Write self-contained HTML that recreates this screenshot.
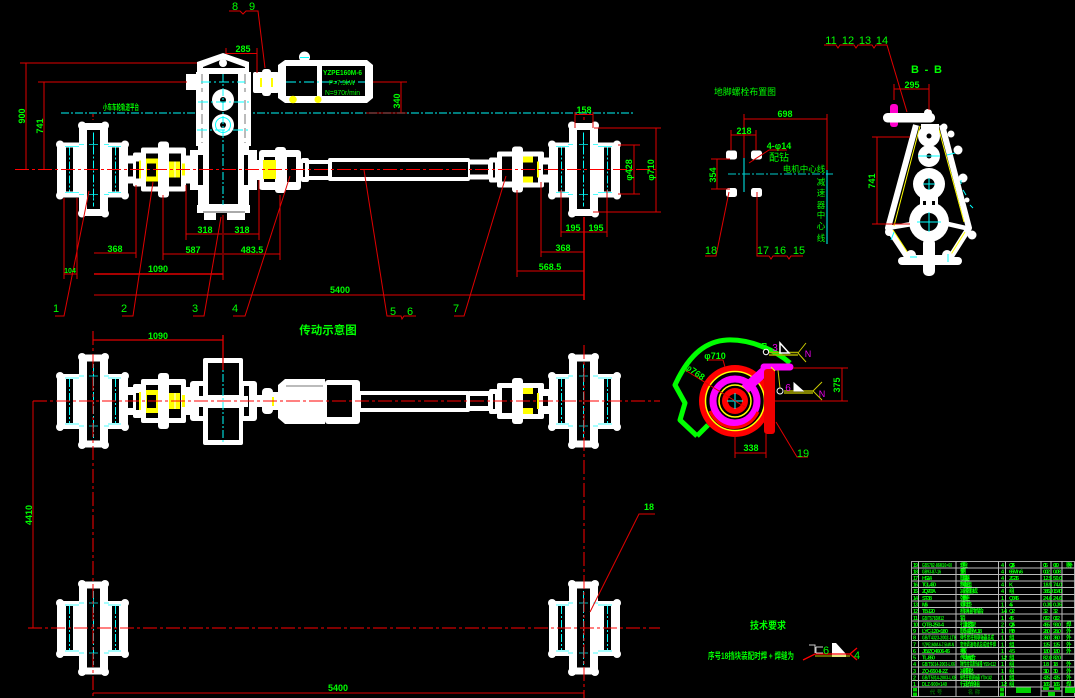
<!DOCTYPE html>
<html><head><meta charset="utf-8"><style>
html,body{margin:0;padding:0;background:#000;width:1075px;height:698px;overflow:hidden}
svg{display:block}
text{font-family:"Liberation Sans","Noto Sans CJK SC",sans-serif;fill:#0f0}
.d{font-size:9px;text-anchor:middle;font-weight:bold}
.n{font-size:11px;text-anchor:middle}
.t{font-size:5.5px;font-weight:bold}
.r{stroke:#e00000;stroke-width:1;fill:none}
.c{stroke:#0ff;stroke-width:1;fill:none;stroke-dasharray:8 2 2 2}
.w{fill:#fff;stroke:none}
.k{fill:#000;stroke:none}
.y{fill:#ff0;stroke:none}
</style></head><body>
<svg width="1075" height="698" viewBox="0 0 1075 698" xmlns="http://www.w3.org/2000/svg">
<defs>
<g id="wheel">
<rect class="w" x="-36" y="-27" width="71" height="55" rx="4"/>
<rect class="w" x="-14" y="-47" width="29" height="94" rx="2"/>
<circle class="w" cx="-33" cy="-25" r="4"/><circle class="w" cx="32" cy="-25" r="4"/><circle class="w" cx="-33" cy="26" r="4"/><circle class="w" cx="32" cy="26" r="4"/>
<circle class="w" cx="-11" cy="-44" r="4"/><circle class="w" cx="12" cy="-44" r="4"/><circle class="w" cx="-11" cy="44" r="4"/><circle class="w" cx="12" cy="44" r="4"/>
<rect class="k" x="-6" y="-39.500" width="13" height="79"/>
<rect class="k" x="-27" y="-22" width="7" height="44"/>
<rect class="k" x="19" y="-22" width="7" height="44"/>
<path d="M-8-47H9" stroke="#000" stroke-width="1"/><path d="M-8 47H9" stroke="#000" stroke-width="1"/>
<path class="c" d="M.5-37V37M-23.500-22V22M22.500-22V22"/>
<path d="M-4-25H5M-4 25H5M.5-29V-21M.5 21V29M-14-25H-9M11-25H16M-14 25H-9M11 25H16M-28-23H-14M15-23H28M-28 23H-14M15 23H28" stroke="#0ff" stroke-width="1" opacity=".7"/>
</g>
<g id="cplL">
<rect class="w" x="128" y="-14" width="14" height="28"/>
<rect class="k" x="128" y="-6" width="5" height="13"/>
<rect class="w" x="133" y="-17" width="9" height="34" rx="2"/>
<rect class="k" x="136" y="-8" width="3" height="17"/>
<rect class="y" x="139" y="-9" width="2" height="18"/>
<rect class="w" x="141" y="-22" width="45" height="44" rx="2"/>
<rect class="w" x="158" y="-28" width="11" height="56" rx="3"/>
<rect class="y" x="146" y="-11" width="12" height="23"/>
<rect class="k" x="147" y="-6" width="9" height="13"/>
<rect class="k" x="146" y="-16" width="12" height="5"/><rect class="k" x="146" y="12" width="12" height="5"/>
<rect class="k" x="169" y="-16" width="12" height="33"/>
<rect class="y" x="169" y="-8" width="11" height="16"/>
<path d="M175-8V8" stroke="#fff" stroke-width="1"/>
<rect class="w" x="186" y="-14" width="6" height="28"/>
<rect class="y" x="182" y="-6" width="3" height="12"/>
</g>
<g id="cplR">
<rect class="w" x="469" y="-10" width="21" height="20"/>
<rect class="k" x="469" y="-5" width="19" height="10"/>
<rect class="w" x="489" y="-12" width="9" height="25" rx="2"/>
<rect class="k" x="493" y="-7" width="2" height="15"/>
<rect class="w" x="497" y="-18" width="47" height="36" rx="2"/>
<rect class="w" x="512" y="-23" width="11" height="46" rx="3"/>
<rect class="k" x="502" y="-13" width="10" height="25"/>
<rect class="k" x="523" y="-13" width="15" height="26"/>
<rect class="y" x="523" y="-13" width="10" height="6"/><rect class="y" x="523" y="7" width="10" height="6"/>
<rect class="y" x="537" y="-8" width="2" height="16"/>
<rect class="w" x="539" y="-12" width="12" height="25"/>
<rect class="k" x="543" y="-5" width="5" height="10"/>
</g>
</defs>
<rect width="1075" height="698" fill="#000"/>

<!-- top view -->
<path d="M61 113H633" stroke="#00a5a5" stroke-width="1.500" stroke-dasharray="8 2 2 2" fill="none"/>
<use href="#wheel" transform="translate(93,169.500)"/>
<use href="#wheel" transform="translate(584,169.500) scale(-1,1)"/>
<use href="#cplL" transform="translate(0,169.500)"/>
<use href="#cplR" transform="translate(0,169.500)"/>

<!-- gearbox -->
<path class="w" d="M197 62L223 53L249 62V72H251V146H249V150H257V190H249V205H250V213H245V220H227V213H216V220H204V213H197V205H198V190H190V150H198V146H196V90H186V74H196V72H197Z"/>
<path class="k" d="M203 67L223 59L245 67V68H203Z"/>
<rect class="k" x="209" y="74" width="29" height="130"/>
<rect class="k" x="198" y="155" width="5" height="30"/>
<rect class="k" x="244" y="155" width="4" height="30"/>
<path d="M202 74V92M202 100V143M245 74V92M245 100V143" stroke="#777" stroke-width="1" stroke-dasharray="10 4"/>
<path d="M203 212H245" stroke="#555" stroke-width="1"/>
<circle class="w" cx="223" cy="63" r="4"/>
<circle class="w" cx="223" cy="100" r="11"/>
<circle class="w" cx="223" cy="125" r="11"/>
<circle cx="223" cy="125" r="7.500" fill="none" stroke="#0ff" stroke-width="1"/>
<circle class="k" cx="223" cy="125" r="3"/><circle class="k" cx="223" cy="100" r="3"/>
<path class="c" d="M223 74V205"/>
<path d="M201 82H245M198 102H249M197 130H249" stroke="#0ff" stroke-width="1" stroke-dasharray="10 3 2 3"/>

<!-- coupling beside gearbox / motor -->
<rect class="w" x="253" y="72" width="26" height="21" rx="2"/>
<rect class="w" x="262" y="69" width="9" height="27" rx="3"/>
<rect class="y" x="260" y="78" width="2" height="9"/><rect class="y" x="271" y="78" width="2" height="9"/>
<path class="w" d="M285 60H367L373 65V98L367 103H285L278 98V65Z"/>
<circle class="w" cx="304.500" cy="57" r="5.500"/>
<rect class="k" x="286" y="66" width="31" height="30"/>
<rect class="k" x="322" y="66" width="43" height="30"/>
<circle class="y" cx="293" cy="99.500" r="3.800"/><circle class="y" cx="318" cy="99.500" r="3.500"/>
<path d="M286 82H365" stroke="#0ff" stroke-width="1" stroke-dasharray="10 3 2 3"/>
<path d="M300 57.500H309" stroke="#0ff"/>
<text x="323" y="75" font-size="7.500" font-weight="bold" textLength="39" lengthAdjust="spacingAndGlyphs">YZPE160M-6</text>
<text x="329" y="85" font-size="7" textLength="26" lengthAdjust="spacingAndGlyphs">P=7.5kW</text>
<text x="325" y="95" font-size="7" textLength="35" lengthAdjust="spacingAndGlyphs">N=970r/min</text>

<!-- right of gearbox -->
<rect class="w" x="257" y="160" width="4" height="20"/>
<rect class="w" x="259" y="150" width="42" height="40" rx="3"/>
<rect class="w" x="275" y="147" width="11" height="46" rx="3"/>
<rect class="k" x="264" y="157" width="11" height="25"/>
<rect class="y" x="263" y="160" width="13" height="19"/>
<rect class="k" x="287" y="157" width="9" height="25"/>
<rect class="w" x="301" y="158" width="8" height="24" rx="2"/>
<rect class="k" x="303" y="163" width="2" height="14"/>
<rect class="w" x="308" y="160" width="21" height="20"/>
<rect class="k" x="309" y="164" width="19" height="12"/>
<rect class="w" x="328" y="158" width="142" height="23" rx="2"/>
<rect class="k" x="332" y="162" width="136" height="15"/>

<!-- lower plan view -->
<use href="#wheel" transform="translate(93,401)"/>
<use href="#wheel" transform="translate(584,401) scale(-1,1)"/>
<use href="#cplL" transform="translate(0,401)"/>
<use href="#cplR" transform="translate(0,401)"/>
<rect class="w" x="190" y="381" width="67" height="40" rx="3"/>
<rect class="k" x="199" y="386" width="5" height="30"/>
<rect class="k" x="244" y="386" width="5" height="30"/>
<rect class="w" x="203" y="358" width="40" height="87" rx="2"/>
<rect class="k" x="208" y="363" width="31" height="32"/>
<rect class="k" x="208" y="408" width="31" height="32"/>
<rect class="w" x="198" y="396" width="50" height="11"/>
<path class="c" d="M223 360V443"/>
<rect class="w" x="257" y="395" width="7" height="12"/>
<rect class="w" x="262" y="388" width="11" height="26" rx="4"/>
<rect class="w" x="272" y="392" width="8" height="18"/>
<rect class="y" x="272" y="397" width="2" height="9"/>
<path class="w" d="M285 379H325V424H285L278 418V385Z"/>
<rect class="w" x="325" y="380" width="35" height="44" rx="3"/>
<rect class="k" x="327" y="385" width="25" height="32"/>
<rect class="w" x="358" y="391" width="112" height="21" rx="2"/>
<rect class="k" x="361" y="395" width="105" height="13"/>
<path d="M286 386H323" stroke="#777"/>

<!-- bottom wheels -->
<use href="#wheel" transform="translate(93,628)"/>
<use href="#wheel" transform="translate(584,628) scale(-1,1)"/>

<!-- centre lines -->
<g stroke="#f00" fill="none" stroke-dasharray="14 3 3 3">
<path d="M15 169.500H657"/>
<path d="M33 401H660"/>
<path d="M28 628H660"/>
<path d="M93 331V700"/>
<path d="M584 345V700"/>
</g>
<path d="M93 114V120M584 112V122" stroke="#f00" stroke-dasharray="3 2"/>

<!-- red dims top -->
<g class="r">
<path d="M229 11H240L243 14L246 11H258L265 68"/>
<path d="M226 53.500H257M257 48V73M226 48V54"/>
<path d="M20 63H197M26 63V169M38 82H187M44 82V169"/>
<path d="M55 316H64L89 191"/>
<path d="M122 316H133L153 182"/>
<path d="M193 316H204L221 217"/>
<path d="M233 316H245L290 176"/>
<path d="M186 185V240M259 180V240M186 234H222M224 234H259"/>
<path d="M94 253H136M136 185V258"/>
<path d="M163 195V260M280 195V260M163 254H222M224 254H280M223 215V280"/>
<path d="M94 274H223" stroke-width="1.500"/>
<path d="M64 198V279M77 198V279M64 274H77"/>
<path d="M94 295H584"/>
<path d="M364 170L387 316H401L402 319L404 316H416"/>
<path d="M454 316H464L506 176"/>
<path d="M517 190V277M517 271H584"/>
<path d="M541 182V257M541 252H584"/>
<path d="M561 190V237M607 190V237M561 232H607"/>
<path d="M575 112V128M593 112V128M575 114.500H593"/>
<path d="M594 128H661M593 212H661M656 128V212"/>
<path d="M618 145H640M618 194H640M634 145V194"/>
<path d="M373 82H407M401 82V113"/>
<path d="M366 113H407" stroke="#b00000"/>
<path d="M584 217V300" stroke-width="1.500"/>
</g>
<g class="d">
<text x="243" y="52">285</text>
<text x="205" y="233">318</text><text x="242" y="233">318</text>
<text x="115" y="252">368</text>
<text x="193" y="253">587</text><text x="252" y="253">483.5</text>
<text x="158" y="272">1090</text>
<text x="70" y="273" font-size="7">104</text>
<text x="340" y="293">5400</text>
<text x="584" y="113">158</text>
<text x="573" y="231">195</text><text x="596" y="231">195</text>
<text x="563" y="251">368</text>
<text x="550" y="270">568.5</text>
<text transform="translate(25,116) rotate(-90)">900</text>
<text transform="translate(43,126) rotate(-90)">741</text>
<text transform="translate(401,97) rotate(-90)" x="-4" y="-1">340</text>
<text transform="translate(632,170) rotate(-90)">φ428</text>
<text transform="translate(654,170) rotate(-90)">φ710</text>
</g>
<g class="n">
<text x="56" y="312">1</text><text x="124" y="312">2</text><text x="195" y="312">3</text><text x="235" y="312">4</text>
<text x="393" y="315">5</text><text x="410" y="315">6</text><text x="456" y="312">7</text>
<text x="235" y="10">8</text><text x="252" y="10">9</text>
</g>
<text x="103" y="110" font-size="8" font-weight="bold" textLength="36" lengthAdjust="spacingAndGlyphs">小车车轮轨道平台</text>

<!-- lower dims -->
<g class="r">
<path d="M93 340H223M223 335V370" stroke-width="1.300"/>
<path d="M33 401V628"/>
<path d="M93 693H584"/>
<path d="M590 612L639 514H655"/>
</g>
<text x="158" y="339" class="d">1090</text>
<text x="338" y="691" class="d">5400</text>
<text transform="translate(32,515) rotate(-90)" class="d">4410</text>
<text x="649" y="510" class="d">18</text>
<text x="328" y="334" font-size="11.500" text-anchor="middle" font-weight="bold">传动示意图</text>

<!-- foundation plan -->
<text x="745" y="95" font-size="9" text-anchor="middle" textLength="62" lengthAdjust="spacingAndGlyphs">地脚螺栓布置图</text>
<g class="w">
<rect x="726" y="150.500" width="11" height="9" rx="2.500"/><rect x="751" y="150.500" width="11" height="9" rx="2.500"/>
<rect x="726" y="188" width="11" height="9" rx="2.500"/><rect x="751" y="188" width="11" height="9" rx="2.500"/>
</g>
<g class="r">
<path d="M744 114V158M744 119H827M827 114V170"/>
<path d="M731 130V150M756 130V150M731 135H756"/>
<path d="M711 159H730M711 189H730M717 159V189"/>
<path d="M749 163L769 150H787"/>
<path d="M705 256H716L729 192"/>
<path d="M757 192V256H769L771 259L773 256H787L789 259L791 256H803"/>
<path d="M824 45H836L838 48L840 45H854L856 48L858 45H872L874 48L876 45H887L907 112"/>
</g>
<path d="M744 158V192" stroke="#00a5a5" stroke-width="1.500"/>
<path d="M728 174H833" stroke="#00cccc" stroke-dasharray="8 2 2 2"/>
<path d="M827 170V244" stroke="#0ff"/>
<text x="785" y="117" class="d">698</text>
<text x="744" y="134" class="d">218</text>
<text transform="translate(716,175) rotate(-90)" class="d">354</text>
<text x="779" y="149" class="d" font-size="8">4-φ14</text>
<text x="779" y="161" font-size="10" text-anchor="middle">配钻</text>
<text x="804" y="172" font-size="8.500" text-anchor="middle">电机中心线</text>
<g font-size="8.500" text-anchor="middle">
<text x="821" y="185">减</text><text x="821" y="196">速</text><text x="821" y="208">器</text><text x="821" y="218">中</text><text x="821" y="229">心</text><text x="821" y="241">线</text>
</g>
<g class="n">
<text x="711" y="254">18</text><text x="763" y="254">17</text><text x="780" y="254">16</text><text x="799" y="254">15</text>
<text x="831" y="44">11</text><text x="848" y="44">12</text><text x="865" y="44">13</text><text x="882" y="44">14</text>
</g>

<!-- B-B section -->
<text x="911" y="73" font-size="11" font-weight="bold" textLength="31" xml:space="preserve">B - B</text>
<rect x="890" y="104" width="8" height="23" rx="3" fill="#f0c"/>
<g stroke="#fff" fill="none" stroke-linejoin="round">
<path d="M916 125L888 228L908 258H950L969 228L942 125" stroke-width="6"/>
<path d="M888 228L912 224M948 224L970 229" stroke-width="4.500"/>
</g>
<path d="M920 126L894 226M938 126L964 222M893 230L910 256M965 232L950 256" stroke="#ff0" stroke-width="1" fill="none"/>
<g class="w">
<rect x="883" y="113" width="52" height="9.500" rx="4.500"/>
<circle cx="928" cy="113" r="4"/>
<circle cx="929" cy="136" r="11"/>
<circle cx="929" cy="156" r="11"/>
<circle cx="929" cy="184" r="16"/>
<rect x="920" y="196" width="18" height="12"/>
<circle cx="929" cy="222" r="20"/>
<rect x="923" y="238" width="12" height="38" rx="5"/>
<rect x="898" y="257" width="64" height="8" rx="4"/>
<circle cx="911" cy="255" r="5"/><circle cx="947" cy="255" r="5"/>
<circle cx="889" cy="232" r="4"/><circle cx="972" cy="235" r="4.500"/>
<circle cx="944" cy="127" r="3.500"/><circle cx="951" cy="134" r="3.500"/><circle cx="958" cy="150" r="4.500"/><circle cx="963" cy="178" r="4.500"/><circle cx="967" cy="200" r="2.500"/>
<rect x="921" y="124" width="18" height="8"/>
</g>
<circle class="k" cx="929" cy="136" r="2.500"/><circle class="k" cx="929" cy="156" r="2.500"/>
<circle class="k" cx="929" cy="184" r="5.500"/><circle class="k" cx="929" cy="222" r="9"/>
<rect class="k" x="923" y="201" width="3" height="4"/><rect class="k" x="932" y="201" width="3" height="4"/>
<path d="M918 156H940M929 178V190M923 184H935M917 222H941M929 212V232M910 257H917M948 254V262" stroke="#0ff" stroke-width="1"/>
<path d="M947 155L955 153M961 180V184M966 195L963 190M973 208L970 205M894 232L891 240" stroke="#0ff" stroke-width="1"/>
<g class="r">
<path d="M894 84V100M929 84V110M894 89H929"/>
<path d="M872 137H910M872 224H910M877 137V224"/>
</g>
<text x="912" y="88" class="d">295</text>
<text transform="translate(875,181) rotate(-90)" class="d">741</text>

<!-- rotated section -->
<path d="M697 436L680 420L685 403L675 385C690 352 708 341 727 340C750 339 775 350 790 363M697 436L708 425" fill="none" stroke="#0f0" stroke-width="5" stroke-linejoin="round"/>
<circle cx="735" cy="401" r="36" fill="#f00"/>
<circle cx="735" cy="401" r="29.500" fill="#000" stroke="#ff0" stroke-width="1.500"/>
<circle cx="735" cy="401" r="22" fill="none" stroke="#f0f" stroke-width="7"/>
<path d="M710 411A26 26 0 0 0 758 412" stroke="#f00" stroke-width="3" fill="none"/>
<circle cx="735" cy="401" r="16" fill="#000" stroke="#ff0" stroke-width="1.500"/>
<circle cx="735" cy="401" r="13" fill="#f00"/>
<circle class="k" cx="735" cy="401" r="7"/>
<path d="M727 401H743M735 393V409" stroke="#0ff"/>
<path d="M745 389L767 369" fill="none" stroke="#f0f" stroke-width="10"/>
<path d="M764 367H790" fill="none" stroke="#f0f" stroke-width="7" stroke-linecap="round"/>
<rect x="764" y="369" width="11" height="65" rx="3" fill="#e00"/>
<path d="M771 367L775 371" stroke="#ff0" stroke-width="1"/>
<g class="r">
<path d="M707 360H723L725 367"/>
<path d="M685 370L745 407"/>
<path d="M793 368H848M775 401H848M842 368V401"/>
<path d="M735 435V458M766 434V458M735 453H766"/>
<path d="M776 422L797 457H808"/>
</g>
<text x="715" y="359" class="d" font-size="8">φ710</text>
<text x="695" y="375" class="d" font-size="8" transform="rotate(35 695 372)">φ768</text>
<text transform="translate(840,385) rotate(-90)" class="d">375</text>
<text x="751" y="451" class="d">338</text>
<text x="803" y="457" class="n">19</text>
<!-- weld 1 -->
<path d="M762 343.500H766V350" fill="none" stroke="#0f0"/>
<circle cx="766" cy="352" r="2.700" fill="#000" stroke="#fff"/>
<path d="M769 352.500H798M769 355H798" stroke="#aa0" stroke-width="1.500"/>
<path d="M798 353L806 343M798 353L806 362M778 370L780 388" stroke="#cc0" fill="none"/>
<path d="M780 343V353H789Z" fill="#000" stroke="#fff" stroke-width="1.500"/>
<text x="775" y="351" font-size="10" style="fill:#e0e" text-anchor="middle">3</text>
<text x="808" y="357" font-size="9" style="fill:#e0e" text-anchor="middle">N</text>
<!-- weld 2 -->
<circle cx="780" cy="391" r="3" fill="#000" stroke="#fff"/>
<path d="M784 391H813M784 393H813" stroke="#aa0" stroke-width="1.500"/>
<path d="M813 391L822 382M813 391L822 400" stroke="#cc0" fill="none"/>
<path d="M794 383V391H803Z" fill="#fff" stroke="#fff"/>
<text x="788" y="391" font-size="10" style="fill:#e0e" text-anchor="middle">6</text>
<text x="822" y="397" font-size="9" style="fill:#e0e" text-anchor="middle">N</text>

<!-- tech requirements -->
<text x="768" y="629" font-size="10" text-anchor="middle" font-weight="bold" textLength="36" lengthAdjust="spacingAndGlyphs">技术要求</text>
<text x="751" y="659" font-size="9" text-anchor="middle" font-weight="bold" textLength="86" lengthAdjust="spacingAndGlyphs">序号18挡块装配时焊 + 焊缝为</text>
<path d="M832 643H836L846 654V657H832Z" fill="#fff"/>
<path d="M803 660L815 654H850L857 648M850 654L857 660" fill="none" stroke="#f00" stroke-width="1.300"/>
<path d="M815 656H850" stroke="#cc0"/>
<path d="M809 645H815V653M816 647H823M816 653H823M816 647V653" fill="none" stroke="#ccc"/>
<text x="826" y="654" class="n">6</text><text x="857" y="659" class="n">4</text>

<!-- title block -->
<rect x="911.500" y="561.500" width="163" height="135" fill="none" stroke="#aaa"/>
<g stroke="#bbb" stroke-width="1">
<path d="M912 568H1075M912 574.500H1075M912 581H1075M912 587.500H1075M912 594.500H1075M912 601H1075M912 607.500H1075M912 614H1075M912 621H1075M912 627.500H1075M912 634H1075M912 640.500H1075M912 647.500H1075M912 654H1075M912 660.500H1075M912 667H1075M912 674H1075M912 680.500H1075M912 687H1075"/>
<path d="M918.500 561V697M956 561V697M998.500 561V697M1005.500 561V697M1041 561V697M1051 561V687M1062 561V697M1041 691H1062"/>
</g>
<g class="t">
<text x="913" y="567" textLength="5">19</text><text x="922" y="567" textLength="30" lengthAdjust="spacingAndGlyphs">GB5782-86M16×60</text><text x="960" y="567" textLength="8">螺栓</text><text x="1001" y="567">4</text><text x="1009" y="567" textLength="6">Q235</text><text x="1043" y="567" textLength="5">0.15</text><text x="1053" y="567" textLength="6">0.60</text><text x="1066" y="567" textLength="4">外购</text>
<text x="913" y="573.500" textLength="5">18</text><text x="922" y="573.500" textLength="19" lengthAdjust="spacingAndGlyphs">GB93-87-16</text><text x="960" y="573.500" textLength="6">垫圈</text><text x="1001" y="573.500">4</text><text x="1009" y="573.500" textLength="14">65Mn-6</text><text x="1043" y="573.500" textLength="7">0.02</text><text x="1053" y="573.500" textLength="8">0.08</text>
<text x="913" y="580" textLength="5">17</text><text x="922" y="580" textLength="10">HS-14</text><text x="960" y="580" textLength="10">联轴器</text><text x="1001" y="580">4</text><text x="1009" y="580" textLength="10">ZG35</text><text x="1043" y="580" textLength="9">12.5</text><text x="1053" y="580" textLength="9">50.0</text>
<text x="913" y="586.500" textLength="5">16</text><text x="922" y="586.500" textLength="14">TGL-450</text><text x="960" y="586.500" textLength="12">制动轮组</text><text x="1001" y="586.500">4</text><text x="1009" y="586.500">K</text><text x="1043" y="586.500" textLength="9">18.5</text><text x="1053" y="586.500" textLength="9">74.0</text>
<text x="913" y="593" textLength="5">15</text><text x="922" y="593" textLength="14">ZQ-700A</text><text x="960" y="593" textLength="18">减速器总成</text><text x="1001" y="593">4</text><text x="1009" y="593" textLength="5">组</text><text x="1043" y="593" textLength="10">385.0</text><text x="1053" y="593" textLength="9">1540</text>
<text x="913" y="600" textLength="5">14</text><text x="922" y="600" textLength="10">ST-38</text><text x="960" y="600" textLength="10">弹簧座</text><text x="1001" y="600">1</text><text x="1009" y="600" textLength="10">Q345</text><text x="1043" y="600" textLength="9">24.6</text><text x="1053" y="600" textLength="9">24.6</text>
<text x="913" y="606.500" textLength="5">13</text><text x="922" y="606.500" textLength="6">M16</text><text x="960" y="606.500" textLength="12">螺母垫</text><text x="1001" y="606.500">1</text><text x="1009" y="606.500" textLength="4">45</text><text x="1043" y="606.500" textLength="9">0.35</text><text x="1053" y="606.500" textLength="9">0.35</text>
<text x="913" y="613" textLength="5">12</text><text x="922" y="613" textLength="13">TB-120</text><text x="960" y="613" textLength="24">挡块组件焊合</text><text x="1001" y="613" textLength="6">1-4</text><text x="1009" y="613" textLength="6">Q2</text><text x="1043" y="613" textLength="5">3.2</text><text x="1053" y="613" textLength="5">3.2</text>
<text x="913" y="620" textLength="5">11</text><text x="922" y="620" textLength="22" lengthAdjust="spacingAndGlyphs">GB/T5783M12</text><text x="960" y="620" textLength="3">销</text><text x="1001" y="620">1</text><text x="1009" y="620" textLength="5">45</text><text x="1043" y="620" textLength="7">0.12</text><text x="1053" y="620" textLength="7">0.12</text>
<text x="913" y="626.500" textLength="5">10</text><text x="922" y="626.500" textLength="22">QTB-250-4</text><text x="960" y="626.500" textLength="16">行走轮支架</text><text x="1001" y="626.500" textLength="3">2</text><text x="1009" y="626.500" textLength="6">Q235</text><text x="1043" y="626.500" textLength="7">46.5</text><text x="1053" y="626.500" textLength="8">93.0</text><text x="1066" y="626.500" textLength="4">焊</text>
<text x="913" y="633" textLength="3">9</text><text x="922" y="633" textLength="26">LYC-120×180</text><text x="960" y="633" textLength="22">联轴器YL18</text><text x="1001" y="633">1</text><text x="1009" y="633" textLength="6">HT20</text><text x="1043" y="633" textLength="7">28.0</text><text x="1053" y="633" textLength="8">28.0</text><text x="1066" y="633" textLength="4">外</text>
<text x="913" y="639.500" textLength="3">8</text><text x="922" y="639.500" textLength="34" lengthAdjust="spacingAndGlyphs">GB/T4323-2002-LT8</text><text x="960" y="639.500" textLength="34" lengthAdjust="spacingAndGlyphs">弹性套柱销联轴器总成</text><text x="1001" y="639.500">1</text><text x="1009" y="639.500" textLength="6">组</text><text x="1043" y="639.500" textLength="7">36.0</text><text x="1053" y="639.500" textLength="7">36.0</text><text x="1066" y="639.500" textLength="4">外</text>
<text x="913" y="646.500" textLength="3">7</text><text x="922" y="646.500" textLength="32" lengthAdjust="spacingAndGlyphs">YZPE160M-6-7.5kW-N</text><text x="960" y="646.500" textLength="36" lengthAdjust="spacingAndGlyphs">变频调速电机总成组件焊</text><text x="1001" y="646.500">1</text><text x="1009" y="646.500" textLength="6">组</text><text x="1043" y="646.500" textLength="7">125</text><text x="1053" y="646.500" textLength="7">125</text><text x="1066" y="646.500" textLength="4">外</text>
<text x="913" y="653" textLength="3">6</text><text x="922" y="653" textLength="28">JB/ZQ4606-45</text><text x="960" y="653" textLength="7">挡板</text><text x="1001" y="653">1</text><text x="1009" y="653" textLength="6">45</text><text x="1043" y="653" textLength="7">1.80</text><text x="1053" y="653" textLength="7">1.80</text><text x="1066" y="653" textLength="4">外</text>
<text x="913" y="659.500" textLength="3">5</text><text x="922" y="659.500" textLength="13">TL-850</text><text x="960" y="659.500" textLength="16">传动轴组合</text><text x="1001" y="659.500" textLength="6">1-2</text><text x="1009" y="659.500" textLength="6">组</text><text x="1043" y="659.500" textLength="9">82.0</text><text x="1053" y="659.500" textLength="8">82.0</text>
<text x="913" y="666" textLength="3">4</text><text x="922" y="666" textLength="33" lengthAdjust="spacingAndGlyphs">GB/T5014-2003-LX6</text><text x="960" y="666" textLength="36" lengthAdjust="spacingAndGlyphs">弹性柱销联轴器 Y55×112</text><text x="1001" y="666">1</text><text x="1009" y="666" textLength="6">组</text><text x="1043" y="666" textLength="6">18</text><text x="1053" y="666" textLength="5">18</text><text x="1066" y="666" textLength="4">外</text>
<text x="913" y="673" textLength="3">3</text><text x="922" y="673" textLength="26">ZQ-650-II-2Z</text><text x="960" y="673" textLength="14">减速器总</text><text x="1001" y="673">1</text><text x="1009" y="673" textLength="6">组</text><text x="1043" y="673" textLength="6">310</text><text x="1053" y="673" textLength="5">310</text><text x="1066" y="673" textLength="4">外</text>
<text x="913" y="679.500" textLength="3">2</text><text x="922" y="679.500" textLength="34" lengthAdjust="spacingAndGlyphs">GB/T5014-2003-LX8</text><text x="960" y="679.500" textLength="32" lengthAdjust="spacingAndGlyphs">弹性柱销联轴器 Y70×142</text><text x="1001" y="679.500">1</text><text x="1009" y="679.500" textLength="6">组</text><text x="1043" y="679.500" textLength="7">42.5</text><text x="1053" y="679.500" textLength="7">42.5</text><text x="1066" y="679.500" textLength="4">外</text>
<text x="913" y="686" textLength="3">1</text><text x="922" y="686" textLength="25" lengthAdjust="spacingAndGlyphs">DLZ-900×140</text><text x="960" y="686" textLength="20">行走车轮组</text><text x="1001" y="686" textLength="6">1-2</text><text x="1009" y="686" textLength="6">组</text><text x="1043" y="686" textLength="7">165</text><text x="1053" y="686" textLength="7">165</text><text x="1066" y="686" textLength="4">焊</text>
<text x="936" y="694" style="fill:#060" font-size="5.500" text-anchor="middle">代 号</text>
<text x="974" y="694" style="fill:#060" font-size="5.500" text-anchor="middle">名 称</text>
</g>
<g fill="#00d000">
<rect x="913" y="688" width="4" height="3.500"/><rect x="913" y="692.500" width="4" height="3.500"/>
<rect x="1000" y="688" width="4" height="3.500"/><rect x="1000" y="692.500" width="4" height="3.500"/>
<rect x="1016" y="687.500" width="15" height="5.500"/>
<rect x="1043" y="686.500" width="6" height="3.500"/><rect x="1054" y="686.500" width="6" height="3.500"/>
<rect x="1048" y="692" width="7" height="4"/>
<rect x="1065" y="687.500" width="10" height="5.500"/>
</g>
</svg>
</body></html>
